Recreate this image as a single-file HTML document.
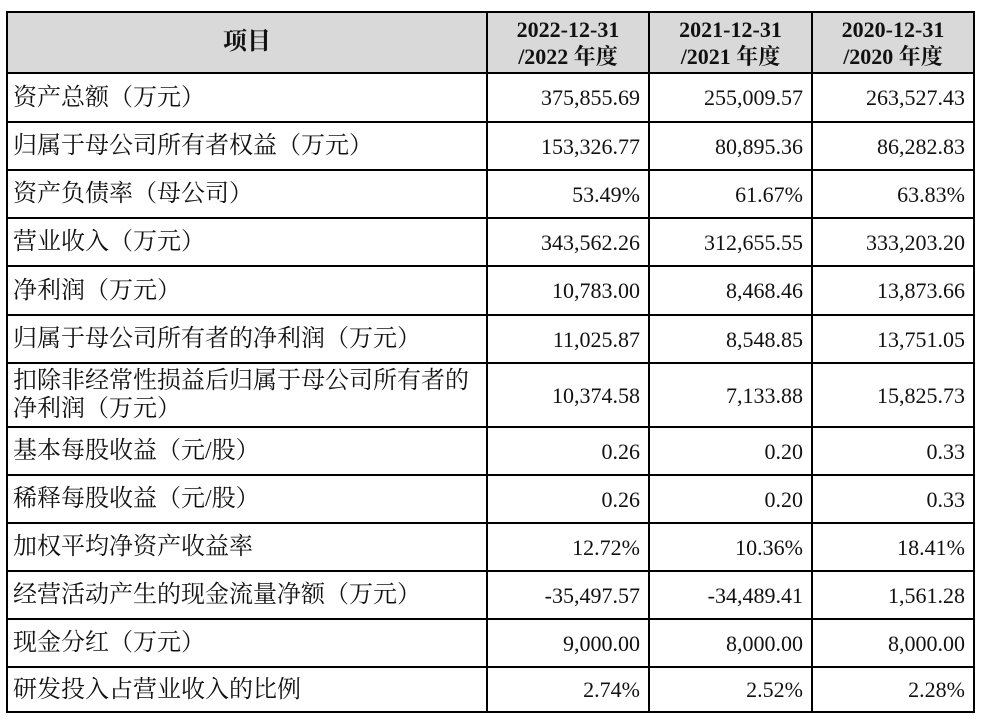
<!DOCTYPE html>
<html><head><meta charset="utf-8">
<style>
body{margin:0;background:#fff;width:984px;height:719px;overflow:hidden}
table{position:absolute;left:6px;top:11px;border-collapse:collapse;table-layout:fixed;font-family:"Liberation Serif","Noto Serif CJK SC",serif;font-size:22px;color:#111}
td,th{border:2px solid #000;padding:0 8px;line-height:27px}
th{background:#d9d9d9;font-weight:bold;text-align:center;font-size:22px}
td.n{text-align:right;padding-right:8px}
td.l{text-align:left;padding-left:5px;font-size:24px;line-height:28px}
</style></head><body>
<table>
<colgroup><col style="width:480px"><col style="width:162px"><col style="width:163px"><col style="width:162px"></colgroup>
<tr style="height:61px"><th style="font-size:24px">项目</th><th>2022-12-31<br>/2022 年度</th><th>2021-12-31<br>/2021 年度</th><th>2020-12-31<br>/2020 年度</th></tr>
<tr style="height:49px"><td class="l">资产总额（万元）</td><td class="n">375,855.69</td><td class="n">255,009.57</td><td class="n">263,527.43</td></tr>
<tr style="height:48px"><td class="l">归属于母公司所有者权益（万元）</td><td class="n">153,326.77</td><td class="n">80,895.36</td><td class="n">86,282.83</td></tr>
<tr style="height:48px"><td class="l">资产负债率（母公司）</td><td class="n">53.49%</td><td class="n">61.67%</td><td class="n">63.83%</td></tr>
<tr style="height:48px"><td class="l">营业收入（万元）</td><td class="n">343,562.26</td><td class="n">312,655.55</td><td class="n">333,203.20</td></tr>
<tr style="height:49px"><td class="l">净利润（万元）</td><td class="n">10,783.00</td><td class="n">8,468.46</td><td class="n">13,873.66</td></tr>
<tr style="height:48px"><td class="l">归属于母公司所有者的净利润（万元）</td><td class="n">11,025.87</td><td class="n">8,548.85</td><td class="n">13,751.05</td></tr>
<tr style="height:64px"><td class="l">扣除非经常性损益后归属于母公司所有者的<br>净利润（万元）</td><td class="n">10,374.58</td><td class="n">7,133.88</td><td class="n">15,825.73</td></tr>
<tr style="height:48px"><td class="l">基本每股收益（元/股）</td><td class="n">0.26</td><td class="n">0.20</td><td class="n">0.33</td></tr>
<tr style="height:48px"><td class="l">稀释每股收益（元/股）</td><td class="n">0.26</td><td class="n">0.20</td><td class="n">0.33</td></tr>
<tr style="height:48px"><td class="l">加权平均净资产收益率</td><td class="n">12.72%</td><td class="n">10.36%</td><td class="n">18.41%</td></tr>
<tr style="height:48px"><td class="l">经营活动产生的现金流量净额（万元）</td><td class="n">-35,497.57</td><td class="n">-34,489.41</td><td class="n">1,561.28</td></tr>
<tr style="height:48px"><td class="l">现金分红（万元）</td><td class="n">9,000.00</td><td class="n">8,000.00</td><td class="n">8,000.00</td></tr>
<tr style="height:45px"><td class="l">研发投入占营业收入的比例</td><td class="n">2.74%</td><td class="n">2.52%</td><td class="n">2.28%</td></tr>
</table>
</body></html>
